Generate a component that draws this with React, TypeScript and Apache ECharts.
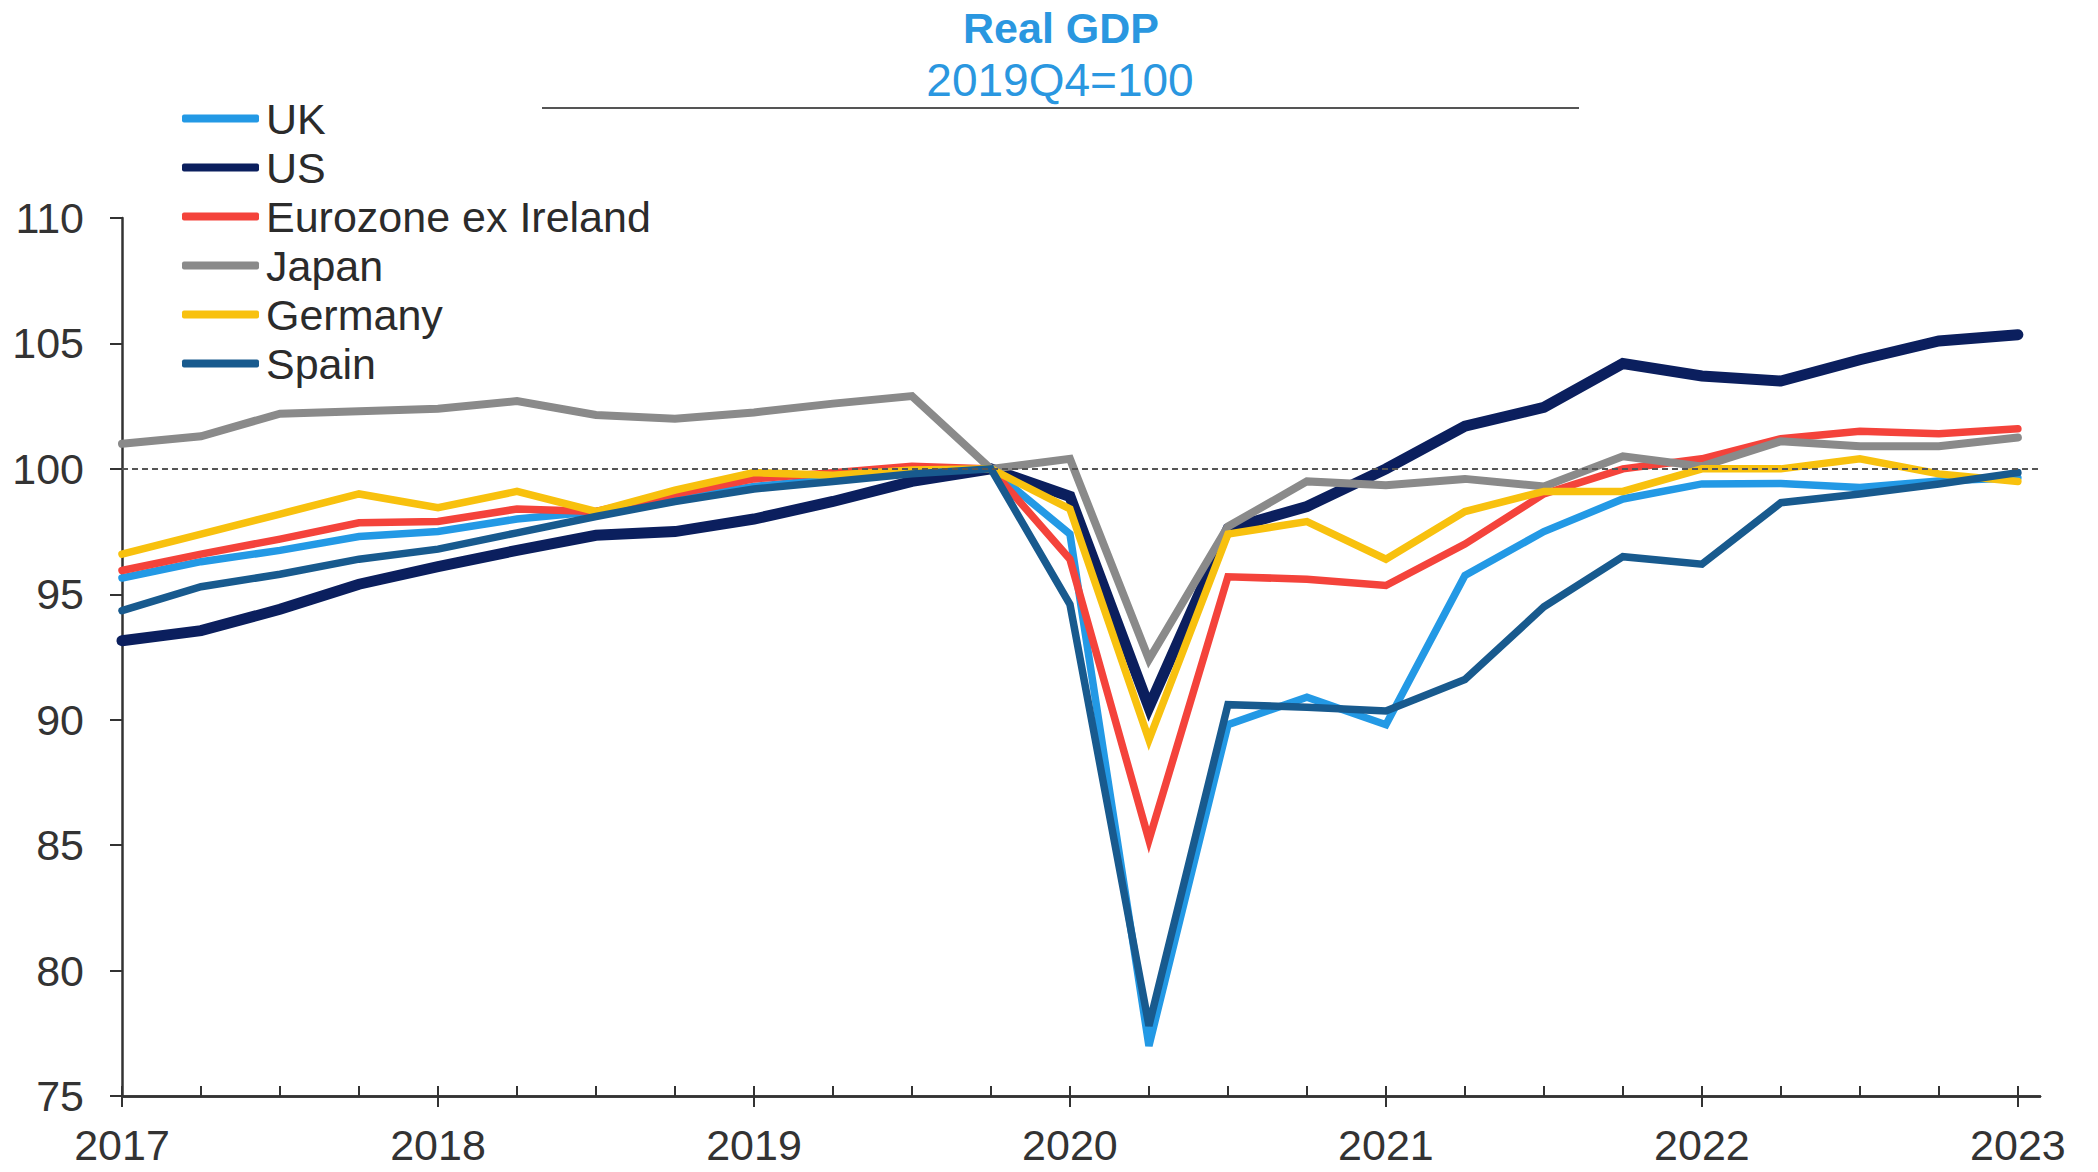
import React, { useEffect, useRef } from "react";
import * as echarts from "echarts";

const quarters = [
  "2017Q1","2017Q2","2017Q3","2017Q4","2018Q1","2018Q2","2018Q3","2018Q4",
  "2019Q1","2019Q2","2019Q3","2019Q4","2020Q1","2020Q2","2020Q3","2020Q4",
  "2021Q1","2021Q2","2021Q3","2021Q4","2022Q1","2022Q2","2022Q3","2022Q4","2023Q1",
];
const yearTicks = ["2017", "2018", "2019", "2020", "2021", "2022", "2023"];

const uk = [95.65, 96.3, 96.75, 97.3, 97.5, 98.0, 98.3, 98.8, 99.3, 99.6, 99.85, 100, 97.4, 77.0, 89.8, 90.9, 89.8, 95.75, 97.5, 98.8, 99.4, 99.42, 99.26, 99.52, 99.65];
const us = [93.15, 93.55, 94.4, 95.4, 96.1, 96.75, 97.35, 97.5, 98.0, 98.7, 99.5, 100, 98.9, 90.5, 97.6, 98.5, 100.0, 101.7, 102.45, 104.2, 103.7, 103.5, 104.35, 105.1, 105.35];
const eurozone = [95.95, 96.6, 97.2, 97.85, 97.9, 98.4, 98.3, 99.0, 99.6, 99.85, 100.1, 100, 96.4, 85.2, 95.7, 95.6, 95.35, 97.0, 99.0, 100.0, 100.4, 101.2, 101.5, 101.4, 101.6];
const japan = [101.0, 101.3, 102.2, 102.3, 102.4, 102.7, 102.15, 102.0, 102.25, 102.6, 102.9, 100, 100.4, 92.4, 97.7, 99.5, 99.35, 99.6, 99.3, 100.5, 100.1, 101.1, 100.9, 100.9, 101.25];
const germany = [96.6, 97.4, 98.2, 99.0, 98.45, 99.1, 98.3, 99.15, 99.85, 99.75, 99.95, 100, 98.4, 89.2, 97.4, 97.9, 96.4, 98.3, 99.1, 99.1, 100.0, 100.0, 100.4, 99.8, 99.5];
const spain = [94.35, 95.3, 95.8, 96.4, 96.8, 97.45, 98.1, 98.7, 99.2, 99.5, 99.8, 100, 94.6, 77.8, 90.6, 90.5, 90.35, 91.6, 94.5, 96.5, 96.2, 98.65, 99.0, 99.4, 99.85];

const seriesNames = ["UK", "US", "Eurozone ex Ireland", "Japan", "Germany", "Spain"];
const seriesValues = [uk, us, eurozone, japan, germany, spain];
const seriesColors = ["#2399E5", "#0B1F5E", "#F4433B", "#8A8A8A", "#F8C10E", "#185A8E"];
const seriesWidths = [7.5, 11, 7.5, 8, 7.5, 7.5];
const baseline = 100;

const FONT = "'Liberation Sans', Arial, sans-serif";

export default function App() {
  const ref = useRef<HTMLDivElement>(null);

  useEffect(() => {
    if (!ref.current) return;
    const chart = echarts.init(ref.current, null, { renderer: "svg" });
    const quarterIdx = quarters.map((_, i) => i);
    const yearIdx = yearTicks.map((_, i) => i * 4);
    const xMax = quarters.length - 1 + 0.28;

    const series: any[] = seriesNames.map((name, k) => ({
      name,
      type: "line",
      xAxisIndex: 0,
      data: seriesValues[k].map((v, i) => [i, v]),
      symbol: "none",
      showSymbol: false,
      lineStyle: { color: seriesColors[k], width: seriesWidths[k], cap: "round", join: "miter" },
      itemStyle: { color: seriesColors[k] },
      z: 2 + k,
    }));
    series[0].markLine = {
      silent: true,
      symbol: ["none", "none"],
      label: { show: false },
      lineStyle: { color: "#555", width: 2, type: [6, 4] },
      data: [{ yAxis: baseline }],
      z: 20,
    };

    chart.setOption({
      animation: false,
      backgroundColor: "#ffffff",
      textStyle: { fontFamily: FONT },
      grid: { left: 122, right: 58, top: 218, bottom: 76, containLabel: false },
      legend: {
        orient: "vertical",
        left: 182,
        top: 97,
        padding: 0,
        itemGap: 6,
        itemWidth: 77,
        itemHeight: 8,
        icon: "roundRect",
        data: seriesNames,
        textStyle: { fontSize: 43, color: "#2b2b2b", fontFamily: FONT, padding: [0, 0, 0, 2] },
      },
      xAxis: [
        {
          type: "value",
          position: "bottom",
          min: 0,
          max: xMax,
          interval: 1,
          axisLine: { show: true, onZero: false, lineStyle: { color: "#333", width: 2.5 } },
          axisTick: { show: true, inside: true, length: 10, customValues: quarterIdx, lineStyle: { color: "#333", width: 2 } },
          axisLabel: { show: false },
          splitLine: { show: false },
        },
        {
          type: "value",
          position: "bottom",
          min: 0,
          max: xMax,
          interval: 4,
          axisLine: { show: true, onZero: false, lineStyle: { color: "#333", width: 2.5 } },
          axisTick: { show: true, inside: false, length: 11, customValues: yearIdx, lineStyle: { color: "#333", width: 2 } },
          axisLabel: {
            show: true,
            customValues: yearIdx,
            fontSize: 43,
            color: "#333",
            fontFamily: FONT,
            margin: 27,
            formatter: (v: number) => yearTicks[Math.round(v / 4)] ?? "",
          },
          splitLine: { show: false },
        },
      ],
      yAxis: {
        type: "value",
        min: 75,
        max: 110,
        interval: 5,
        axisLine: { show: true, onZero: false, lineStyle: { color: "#333", width: 2.5 } },
        axisTick: { show: true, inside: false, length: 12, lineStyle: { color: "#333", width: 2 } },
        axisLabel: { fontSize: 43, color: "#333", fontFamily: FONT, margin: 38 },
        splitLine: { show: false },
      },
      graphic: [
        {
          type: "text",
          style: {
            text: "Real GDP",
            x: 1061,
            y: 28,
            textAlign: "center",
            textVerticalAlign: "middle",
            fill: "#2A97E0",
            font: `bold 43px ${FONT}`,
          },
        },
        {
          type: "text",
          style: {
            text: "2019Q4=100",
            x: 1060,
            y: 80,
            textAlign: "center",
            textVerticalAlign: "middle",
            fill: "#2A97E0",
            font: `46px ${FONT}`,
          },
        },
        {
          type: "line",
          shape: { x1: 542, y1: 108, x2: 1579, y2: 108 },
          style: { stroke: "#555", lineWidth: 2 },
        },
      ],
      series,
    });

    return () => chart.dispose();
  }, []);

  return (
    <div
      ref={ref}
      style={{ position: "fixed", left: 0, top: 0, width: 2098, height: 1172, background: "#fff" }}
    />
  );
}
